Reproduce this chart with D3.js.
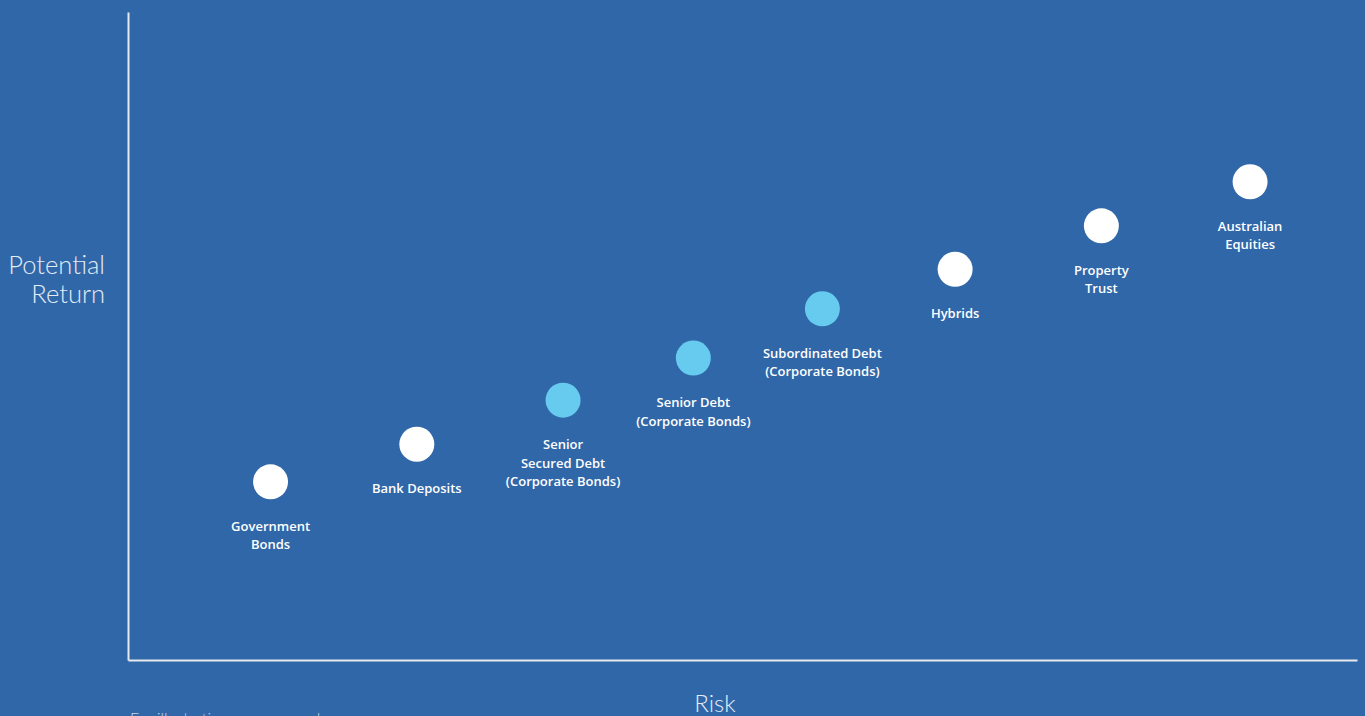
<!DOCTYPE html>
<html>
<head>
<meta charset="utf-8">
<script src="https://cdn.jsdelivr.net/npm/d3@7"></script>
<style>
  html, body { margin: 0; padding: 0; background: #3067a8; overflow: hidden; }
  svg { display: block; }
  .point-label { font-family: "Open Sans", sans-serif; font-weight: 600; font-size: 13px; fill: #fff; }
  .axis-title { font-family: "Lato", sans-serif; font-weight: 300; font-size: 24px; fill: #e4ecf6; }
  .footnote { font-family: "Lato", sans-serif; font-weight: 300; font-size: 16px; fill: #c9d7ea; }
</style>
</head>
<body>
<div id="chart"></div>
<script>
// asset classes, left (low risk) to right (high risk)
const categories = [
  "Government Bonds", "Bank Deposits", "Senior Secured Debt", "Senior Debt",
  "Subordinated Debt", "Hybrids", "Property Trust", "Australian Equities"
]
const labelLines = [
  ["Government", "Bonds"],
  ["Bank Deposits"],
  ["Senior", "Secured Debt", "(Corporate Bonds)"],
  ["Senior Debt", "(Corporate Bonds)"],
  ["Subordinated Debt", "(Corporate Bonds)"],
  ["Hybrids"],
  ["Property", "Trust"],
  ["Australian", "Equities"]
]
const riskValues = [1.16, 2.35, 3.54, 4.60, 5.65, 6.73, 7.92, 9.13]
const returnValues = [2.75, 3.33, 4.01, 4.66, 5.42, 6.03, 6.70, 7.38]
const isCorporateBond = [false, false, true, true, true, false, false, false]

const width = 1365
const height = 716
const margin = { top: 12, right: 8, bottom: 56, left: 128 }

const svg = d3.select("#chart").append("svg")
    .attr("width", width)
    .attr("height", height)

svg.append("rect")
    .attr("width", width)
    .attr("height", height)
    .attr("fill", "#3067a8")

const xScale = d3.scaleLinear()
  .domain([0, 10])
  .range([margin.left, width - margin.right])

const yScale = d3.scaleLinear()
  .domain([0, 10])
  .range([height - margin.bottom, margin.top])

// axes as plain lines, no ticks
const xAxis = d3.axisBottom(xScale).tickValues([]).tickSizeOuter(0)
const yAxis = d3.axisLeft(yScale).tickValues([]).tickSizeOuter(0)

svg.append("g")
    .attr("transform", `translate(0, ${yScale(0)})`)
    .call(xAxis)
    .call(g => g.select(".domain").attr("stroke", "#e6e9ee").attr("stroke-width", 2))

svg.append("g")
    .attr("transform", `translate(${xScale(0)}, 0)`)
    .call(yAxis)
    .call(g => g.select(".domain").attr("stroke", "#e6e9ee").attr("stroke-width", 2))

const data = categories.map((name, i) => ({
  name,
  lines: labelLines[i],
  risk: riskValues[i],
  ret: returnValues[i],
  corporate: isCorporateBond[i]
}))

const points = svg.append("g").selectAll("g")
  .data(data)
  .join("g")
    .attr("transform", d => `translate(${xScale(d.risk)}, ${yScale(d.ret)})`)

points.append("circle")
    .attr("r", 17.5)
    .attr("fill", d => d.corporate ? "#66cbee" : "#ffffff")

points.append("text")
    .attr("class", "point-label")
    .attr("text-anchor", "middle")
  .selectAll("tspan")
  .data(d => d.lines)
  .join("tspan")
    .attr("x", 0)
    .attr("y", (d, i) => 49 + i * 18.5)
    .text(d => d)

// axis titles
svg.append("text")
    .attr("class", "axis-title")
    .style("font-size", "25.5px")
    .attr("text-anchor", "end")
  .selectAll("tspan")
  .data(["Potential", "Return"])
  .join("tspan")
    .attr("x", 105)
    .attr("y", (d, i) => 274 + i * 29)
    .text(d => d)

svg.append("text")
    .attr("class", "axis-title")
    .attr("text-anchor", "middle")
    .attr("x", 715)
    .attr("y", 712)
    .text("Risk")

// footnote sits mostly below the visible area, as in the original
svg.append("text")
    .attr("class", "footnote")
    .attr("x", 130)
    .attr("y", 724)
    .text("For illustrative purposes only")
</script>
</body>
</html>
